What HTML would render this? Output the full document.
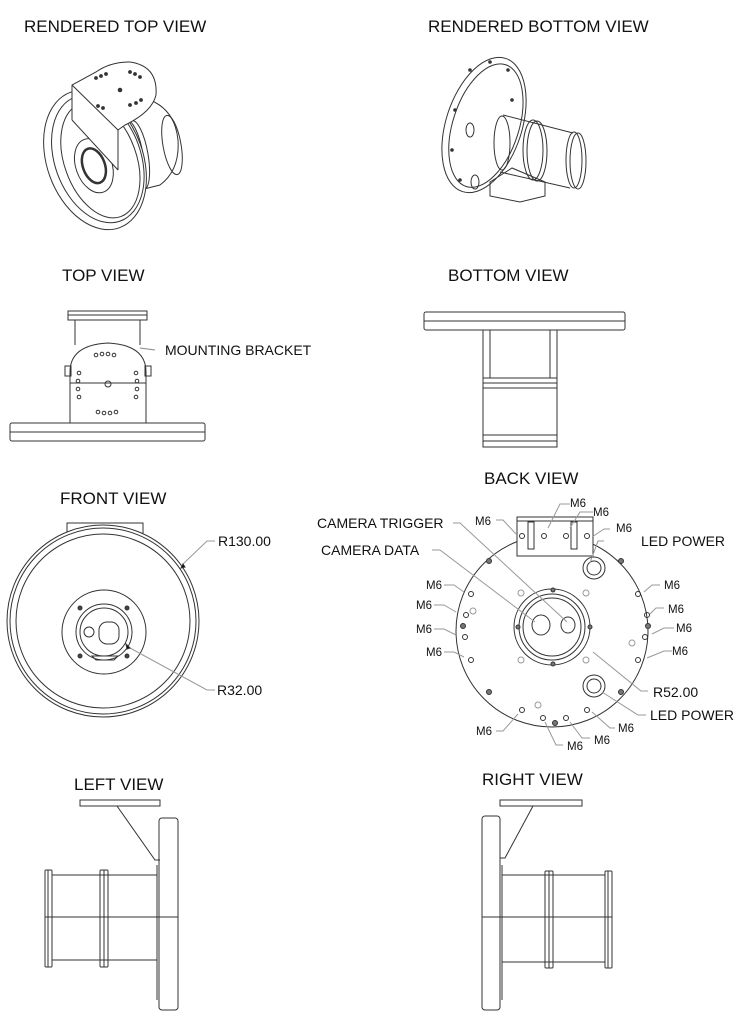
<!DOCTYPE html>
<html><head><meta charset="utf-8"><style>
html,body{margin:0;padding:0;background:#fff;}
svg{display:block;}
text{font-family:"Liberation Sans",Arial,sans-serif;fill:#111;}
.t{font-size:17px;}
.l{font-size:14px;}
.s{font-size:11.5px;}
</style></head><body>
<svg width="747" height="1027" viewBox="0 0 747 1027" xmlns="http://www.w3.org/2000/svg">
<text class="t" x="24" y="32">RENDERED TOP VIEW</text>
<text class="t" x="428" y="32">RENDERED BOTTOM VIEW</text>
<text class="t" x="62" y="281">TOP VIEW</text>
<text class="t" x="448" y="281">BOTTOM VIEW</text>
<text class="t" x="60" y="504">FRONT VIEW</text>
<text class="t" x="484" y="484">BACK VIEW</text>
<text class="t" x="74" y="790">LEFT VIEW</text>
<text class="t" x="482" y="785">RIGHT VIEW</text>

<g fill="none" stroke="#333" stroke-width="1">
<!-- RENDERED TOP -->
<path d="M125 120 L150 100 Q175 110 178 140 Q180 170 160 185 L140 190" />
<ellipse cx="172" cy="145" rx="9" ry="30" transform="rotate(-10 172 145)"/>
<ellipse cx="133" cy="155" rx="10" ry="35" transform="rotate(-10 133 155)"/>
<ellipse cx="138" cy="155" rx="10" ry="35" transform="rotate(-10 138 155)"/>
<g transform="rotate(-20 95 160)">
<ellipse cx="95" cy="160" rx="48" ry="72" fill="#fff"/>
<ellipse cx="98" cy="160" rx="43" ry="66"/>
<ellipse cx="100" cy="162" rx="36" ry="60"/>
<ellipse cx="92" cy="165" rx="18" ry="28"/>
<ellipse cx="92" cy="165" rx="11" ry="18" stroke-width="2.5"/>
</g>
<path d="M72 120 L72 85 L96 72 Q110 62 130 62 Q158 66 156 95 Q152 112 125 125 L118 130 L118 170" fill="#fff"/>
<path d="M72 85 L118 130"/>
<path d="M72 120 L118 170"/>
<g fill="#333"><circle cx="96" cy="78" r="1.4"/><circle cx="101" cy="76" r="1.4"/><circle cx="106" cy="74" r="1.4"/><circle cx="130" cy="72" r="1.4"/><circle cx="135" cy="74" r="1.4"/><circle cx="140" cy="77" r="1.4"/><circle cx="120" cy="90" r="1.8"/><circle cx="98" cy="106" r="1.4"/><circle cx="103" cy="108" r="1.4"/><circle cx="130" cy="105" r="1.4"/><circle cx="136" cy="103" r="1.4"/><circle cx="141" cy="100" r="1.4"/></g>

<!-- RENDERED BOTTOM -->
<g transform="rotate(18 484 125)">
<ellipse cx="484" cy="125" rx="38" ry="70"/>
<ellipse cx="486" cy="125" rx="33" ry="64"/>
</g>
<line x1="503" y1="115" x2="573" y2="133"/>
<line x1="500" y1="172" x2="570" y2="188"/>
<ellipse cx="502" cy="143" rx="8" ry="27"/>
<ellipse cx="533" cy="150" rx="10" ry="30"/>
<ellipse cx="537" cy="151" rx="10" ry="30"/>
<ellipse cx="574" cy="160" rx="8" ry="28"/>
<ellipse cx="578" cy="161" rx="8" ry="28"/>
<path d="M490 182 L512 168 L545 182 L545 196 L520 202 L490 196 Z"/>
<ellipse cx="475" cy="182" rx="4" ry="7"/>
<ellipse cx="470" cy="130" rx="4" ry="7"/>
<g fill="#333"><circle cx="470" cy="70" r="1.3"/><circle cx="490" cy="62" r="1.3"/><circle cx="508" cy="70" r="1.3"/><circle cx="512" cy="100" r="1.3"/><circle cx="455" cy="110" r="1.3"/><circle cx="452" cy="150" r="1.3"/><circle cx="460" cy="180" r="1.3"/></g>

<!-- TOP VIEW -->
<rect x="68" y="311" width="79" height="9"/>
<line x1="68" y1="315" x2="147" y2="315"/>
<line x1="75" y1="320" x2="75" y2="345"/><line x1="140" y1="320" x2="140" y2="345"/>
<path d="M70 423 L70 372 Q70 345 108 343 Q146 345 146 372 L146 423"/>
<line x1="70" y1="383" x2="146" y2="383"/>
<rect x="65" y="366" width="6" height="10"/><rect x="145" y="366" width="6" height="10"/>
<circle cx="108" cy="384" r="3"/>
<g><circle cx="96" cy="355" r="1.8"/><circle cx="102" cy="354" r="1.8"/><circle cx="108" cy="354" r="1.8"/><circle cx="114" cy="355" r="1.8"/>
<circle cx="98" cy="412" r="1.8"/><circle cx="104" cy="413" r="1.8"/><circle cx="110" cy="413" r="1.8"/><circle cx="116" cy="412" r="1.8"/>
<circle cx="79" cy="373" r="1.8"/><circle cx="78" cy="381" r="1.8"/><circle cx="78" cy="389" r="1.8"/><circle cx="79" cy="397" r="1.8"/>
<circle cx="136" cy="373" r="1.8"/><circle cx="137" cy="381" r="1.8"/><circle cx="137" cy="389" r="1.8"/><circle cx="136" cy="397" r="1.8"/></g>
<rect x="10" y="423" width="195" height="18" rx="2"/>
<line x1="10" y1="432" x2="205" y2="432"/>
<path d="M140 348 L155 350" stroke="#888"/>

<!-- BOTTOM VIEW -->
<rect x="424" y="312" width="201" height="18" rx="2"/>
<line x1="424" y1="321" x2="625" y2="321"/>
<line x1="483" y1="330" x2="483" y2="447"/><line x1="557" y1="330" x2="557" y2="447"/>
<line x1="490" y1="330" x2="490" y2="378"/><line x1="550" y1="330" x2="550" y2="378"/>
<rect x="483" y="378" width="74" height="10"/>
<line x1="483" y1="383" x2="557" y2="383"/>
<rect x="483" y="435" width="74" height="12"/>
<line x1="483" y1="441" x2="557" y2="441"/>

<!-- FRONT VIEW -->
<rect x="67" y="523" width="76" height="28"/>
<circle cx="103" cy="621" r="96" fill="#fff"/>
<circle cx="103" cy="621" r="93"/>
<circle cx="103" cy="621" r="87"/>
<circle cx="104" cy="632" r="42"/>
<circle cx="104" cy="632" r="28"/>
<circle cx="104" cy="632" r="24"/>
<circle cx="89" cy="632" r="5"/>
<rect x="99" y="622" width="20" height="22" rx="8"/>
<g fill="#444"><circle cx="80" cy="608" r="2"/><circle cx="127" cy="608" r="2"/><circle cx="80" cy="656" r="2"/><circle cx="127" cy="656" r="2"/></g>
<path d="M92 656 L118 656 L114 660 L96 660 Z"/>
<polyline points="215,541 207,541 183,564" stroke="#999"/>
<polyline points="215,690 207,690 130,648" stroke="#999"/>
<path d="M183 564 l-2 4 l4 -1 z" fill="#000"/>
<path d="M130 648 l-4 -4 l1 5 z" fill="#000"/>

<!-- BACK VIEW -->
<circle cx="552" cy="631" r="96" fill="#fff"/>
<rect x="517" y="517" width="76" height="39" fill="#fff"/>
<line x1="517" y1="521" x2="593" y2="521"/>
<rect x="528" y="522" width="6" height="27"/><rect x="571" y="522" width="6" height="27"/>
<circle cx="552" cy="627" r="38"/>
<circle cx="552" cy="627" r="33"/>
<circle cx="552" cy="627" r="29"/>
<ellipse cx="541" cy="625" rx="9" ry="10"/>
<ellipse cx="568" cy="625" rx="7" ry="8"/>
<circle cx="594" cy="568" r="11"/><circle cx="594" cy="568" r="7"/>
<circle cx="594" cy="686" r="11"/><circle cx="594" cy="686" r="7"/>
<g fill="#777"><circle cx="489" cy="561" r="2.5"/><circle cx="621" cy="561" r="2.5"/><circle cx="489" cy="692" r="2.5"/><circle cx="621" cy="692" r="2.5"/><circle cx="463" cy="626" r="2.5"/><circle cx="648" cy="626" r="2.5"/><circle cx="555" cy="723" r="2.5"/>
<circle cx="553" cy="590" r="2"/><circle cx="553" cy="664" r="2"/><circle cx="518" cy="627" r="2"/><circle cx="590" cy="627" r="2"/></g>
<g><circle cx="522" cy="536" r="2.5"/><circle cx="544" cy="536" r="2.5"/><circle cx="566" cy="536" r="2.5"/><circle cx="587" cy="536" r="2.5"/>
<circle cx="471" cy="594" r="2.5"/><circle cx="466" cy="615" r="2.5"/><circle cx="465" cy="637" r="2.5"/><circle cx="471" cy="660" r="2.5"/>
<circle cx="638" cy="594" r="2.5"/><circle cx="647" cy="615" r="2.5"/><circle cx="645" cy="637" r="2.5"/><circle cx="638" cy="660" r="2.5"/>
<circle cx="522" cy="710" r="2.5"/><circle cx="543" cy="718" r="2.5"/><circle cx="566" cy="718" r="2.5"/><circle cx="587" cy="710" r="2.5"/></g>
<g stroke="#999"><circle cx="521" cy="593" r="3"/><circle cx="586" cy="593" r="3"/><circle cx="521" cy="660" r="3"/><circle cx="586" cy="660" r="3"/><circle cx="473" cy="611" r="3"/><circle cx="632" cy="643" r="3"/><circle cx="538" cy="705" r="3"/></g>
<g stroke="#999">
<polyline points="453,523 460,523 567,622"/>
<polyline points="432,550 440,550 535,622"/>
<polyline points="604,541 598,541 590,563"/>
<polyline points="648,691 641,691 593,652"/>
<polyline points="646,715 638,715 602,692"/>
<polyline points="496,520 503,520 516,534"/>
<polyline points="570,504 560,504 548,528"/>
<polyline points="593,512 580,512 570,528"/>
<polyline points="610,529 604,529 592,537"/>
<polyline points="444,585 454,585 464,592"/>
<polyline points="434,605 444,605 456,612"/>
<polyline points="434,629 444,629 456,635"/>
<polyline points="444,652 454,652 464,657"/>
<polyline points="660,585 652,585 644,592"/>
<polyline points="664,608 656,608 650,614"/>
<polyline points="674,628 664,628 652,634"/>
<polyline points="672,651 664,651 647,658"/>
<polyline points="496,731 503,731 518,714"/>
<polyline points="563,745 556,745 545,722"/>
<polyline points="590,738 582,738 570,722"/>
<polyline points="615,728 610,728 592,712"/>
</g>

<!-- LEFT VIEW -->
<path d="M80 800 L160 800 L160 806 L80 806 Z"/>
<path d="M117 806 L155 860 L160 860"/>
<rect x="159" y="818" width="19" height="192" rx="3"/>
<line x1="157" y1="865" x2="157" y2="1000"/>
<line x1="52" y1="875" x2="157" y2="875"/>
<line x1="52" y1="960" x2="157" y2="960"/>
<line x1="45" y1="917" x2="178" y2="917"/>
<rect x="45" y="870" width="7" height="97" rx="1"/><line x1="48" y1="870" x2="48" y2="967"/>
<rect x="100" y="870" width="8" height="97" rx="1"/><line x1="104" y1="870" x2="104" y2="967"/>

<!-- RIGHT VIEW -->
<path d="M500 800 L582 800 L582 806 L500 806 Z"/>
<path d="M533 806 L505 858 L500 858"/>
<rect x="482" y="816" width="18" height="194" rx="3"/>
<line x1="502" y1="865" x2="502" y2="1000"/>
<line x1="502" y1="875" x2="605" y2="875"/>
<line x1="502" y1="962" x2="605" y2="962"/>
<line x1="482" y1="917" x2="612" y2="917"/>
<rect x="545" y="871" width="8" height="97" rx="1"/><line x1="549" y1="871" x2="549" y2="968"/>
<rect x="605" y="871" width="7" height="97" rx="1"/><line x1="608" y1="871" x2="608" y2="968"/>
</g>

<text class="l" x="165" y="355">MOUNTING BRACKET</text>
<text class="l" x="218" y="546">R130.00</text>
<text class="l" x="217" y="695">R32.00</text>
<text class="l" x="317" y="528">CAMERA TRIGGER</text>
<text class="l" x="321" y="555">CAMERA DATA</text>
<text class="l" x="641" y="546">LED POWER</text>
<text class="l" x="653" y="697">R52.00</text>
<text class="l" x="650" y="720">LED POWER</text>
<text class="s" x="475" y="525">M6</text>
<text class="s" x="570" y="507">M6</text>
<text class="s" x="593" y="516">M6</text>
<text class="s" x="616" y="532">M6</text>
<text class="s" x="426" y="589">M6</text>
<text class="s" x="416" y="609">M6</text>
<text class="s" x="416" y="633">M6</text>
<text class="s" x="426" y="656">M6</text>
<text class="s" x="664" y="589">M6</text>
<text class="s" x="668" y="613">M6</text>
<text class="s" x="676" y="632">M6</text>
<text class="s" x="672" y="655">M6</text>
<text class="s" x="476" y="735">M6</text>
<text class="s" x="567" y="750">M6</text>
<text class="s" x="594" y="744">M6</text>
<text class="s" x="618" y="732">M6</text>
</svg>
</body></html>
